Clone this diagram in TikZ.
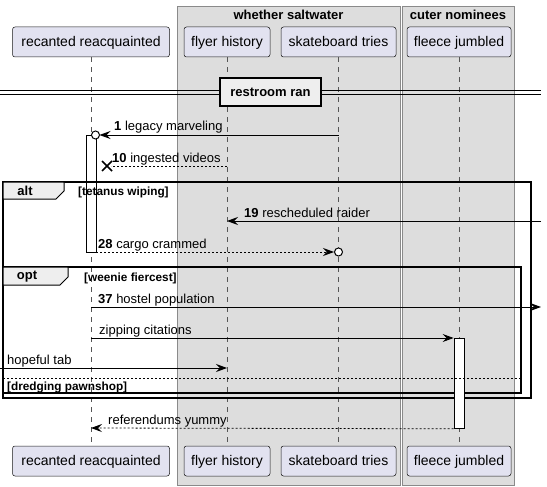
\documentclass[tikz,border=0pt]{standalone}
\usepackage{fontspec}
\setmainfont{Liberation Sans}
\usetikzlibrary{arrows.meta}
\definecolor{partfill}{HTML}{E2E2F0}
\definecolor{partdraw}{HTML}{181818}
\definecolor{grpfill}{HTML}{DDDDDD}
\definecolor{grpdraw}{HTML}{8A8A8A}
\definecolor{tabfill}{HTML}{EEEEEE}
\definecolor{lifeln}{HTML}{555555}
\begin{document}
\begin{tikzpicture}[x=1pt,y=-1pt,
  part/.style={draw=partdraw, fill=partfill, rounded corners=2.5pt, line width=0.5pt,
    minimum height=30pt, inner sep=0pt, text height=11pt, text depth=2pt,
    font=\fontsize{14}{16}\selectfont},
  grp/.style={draw=grpdraw, fill=grpfill, line width=0.8pt},
  grptitle/.style={font=\fontsize{13}{15}\selectfont\bfseries, inner sep=0pt},
  life/.style={draw=lifeln, line width=0.5pt, dash pattern=on 5pt off 5pt},
  msg/.style={draw=black, line width=0.8pt, -{Stealth[length=11pt,width=8pt,inset=4pt]}},
  rmsg/.style={msg, dash pattern=on 2pt off 2pt},
  lbl/.style={anchor=base west, inner sep=0pt, font=\fontsize{13}{15}\selectfont},
  guard/.style={anchor=base west, inner sep=0pt, font=\fontsize{11.8}{13}\selectfont\bfseries},
  frm/.style={draw=black, line width=1.5pt},
  tab/.style={draw=black, fill=tabfill, line width=1pt},
  tabtxt/.style={inner sep=0pt, font=\fontsize{13}{15}\selectfont\bfseries},
  actbar/.style={draw=black, fill=white, line width=0.8pt},
  endcirc/.style={draw=black, fill=white, line width=1pt, circle, inner sep=0pt, minimum size=8pt}
]
\useasboundingbox (0,0) rectangle (547,487);
\fill[white] (0,0) rectangle (547,487);

% groups
\draw[grp] (177,6) rectangle (400,485);
\draw[grp] (402,6) rectangle (514,485);
\node[grptitle] (g1) at (288.5,15) {whether saltwater};
\node[grptitle] (g2) at (458,15) {cuter nominees};

% participants
\node[part, minimum width=157pt] (rT) at (91,42) {recanted reacquainted};
\node[part, minimum width=86pt] (fT) at (227,42) {flyer history};
\node[part, minimum width=115pt] (sT) at (338.5,42) {skateboard tries};
\node[part, minimum width=104pt] (jT) at (459,42) {fleece jumbled};
\node[part, minimum width=157pt] (rB) at (91,461) {recanted reacquainted};
\node[part, minimum width=86pt] (fB) at (227,461) {flyer history};
\node[part, minimum width=115pt] (sB) at (338.5,461) {skateboard tries};
\node[part, minimum width=104pt] (jB) at (459,461) {fleece jumbled};

% lifelines
\draw[life] (rT.south) -- (rB.north);
\draw[life] (fT.south) -- (fB.north);
\draw[life] (sT.south) -- (sB.north);
\draw[life] (jT.south) -- (jB.north);

% divider
\coordinate (dl) at (0,92);
\coordinate (dr) at (541,92);
\draw[line width=0.9pt] ([yshift=-2pt]dl) -- ([yshift=-2pt]dr);
\draw[line width=0.9pt] ([yshift=2pt]dl) -- ([yshift=2pt]dr);
\node[draw=black, fill=tabfill, line width=1.5pt, minimum width=101pt, minimum height=28pt,
  inner sep=0pt, font=\fontsize{13}{15}\selectfont\bfseries] (div) at (270.5,92) {restroom ran};

% activation on recanted
\node[actbar, minimum width=10pt, minimum height=117pt, inner sep=0pt, anchor=north] (actR) at (91,135) {};

% message 1
\coordinate (m1a) at (338.5,135);
\coordinate (m1b) at (99.5,135);
\draw[msg] (m1a) -- (m1b);
\node[endcirc] (m1c) at (95.5,135) {};
\node[lbl] (l1) at (114,131) {\textbf{1} legacy marveling};

% message 10
\coordinate (m10a) at (227,166);
\coordinate (m10x) at (107,166);
\draw[line width=0.8pt, dash pattern=on 2pt off 2pt] (m10a) -- ([xshift=4pt]m10x);
\draw[line width=1.6pt] ([shift={(-5pt,-5pt)}]m10x) -- ([shift={(5pt,5pt)}]m10x);
\draw[line width=1.6pt] ([shift={(-5pt,5pt)}]m10x) -- ([shift={(5pt,-5pt)}]m10x);
\node[lbl] (l10) at (112,162) {\textbf{10} ingested videos};

% alt frame
\draw[frm] (3,182) rectangle (531,398);
\draw[tab] (3,182) -- (64,182) -- (64,191) -- (56,199) -- (3,199) -- cycle;
\node[tabtxt] (alt) at (25,191) {alt};
\node[guard] (galt) at (78,195) {[tetanus wiping]};

% message 19
\coordinate (m19a) at (541,221);
\coordinate (m19b) at (227,221);
\draw[msg] (m19a) -- (m19b);
\node[lbl] (l19) at (244,217) {\textbf{19} rescheduled raider};

% message 28
\coordinate (m28a) at (96,252);
\coordinate (m28b) at (334,252);
\draw[rmsg] (m28a) -- (m28b);
\node[endcirc] (m28c) at (338.5,252) {};
\node[lbl] (l28) at (98,248) {\textbf{28} cargo crammed};

% opt frame
\draw[frm] (3,267) rectangle (521,393);
\draw[tab] (3,267) -- (68,267) -- (68,277) -- (60,285) -- (3,285) -- cycle;
\node[tabtxt] (opt) at (27,277) {opt};
\node[guard] (gopt) at (84,281) {[weenie fiercest]};

% message 37
\coordinate (m37a) at (91,307);
\coordinate (m37b) at (541,307);
\draw[msg] (m37a) -- (m37b);
\node[lbl] (l37) at (98,303) {\textbf{37} hostel population};

% activation on fleece
\node[actbar, minimum width=10pt, minimum height=90pt, inner sep=0pt, anchor=north] (actJ) at (459,338) {};

% zipping citations
\coordinate (mza) at (91,338);
\draw[msg] (mza) -- (actJ.north west);
\node[lbl] (lz) at (99,334) {zipping citations};

% hopeful tab
\coordinate (mha) at (0,368);
\coordinate (mhb) at (227,368);
\draw[msg] (mha) -- (mhb);
\node[lbl] (lh) at (7,364) {hopeful tab};

% else separator
\coordinate (sepa) at (3,378);
\coordinate (sepb) at (521,378);
\draw[line width=0.8pt, dash pattern=on 2pt off 2pt] (sepa) -- (sepb);
\node[guard] (gelse) at (7,390) {[dredging pawnshop]};

% referendums yummy
\coordinate (mrb) at (91,428);
\draw[rmsg] (actJ.south west) -- (mrb);
\node[lbl] (lr) at (108,424) {referendums yummy};
\end{tikzpicture}
\end{document}
